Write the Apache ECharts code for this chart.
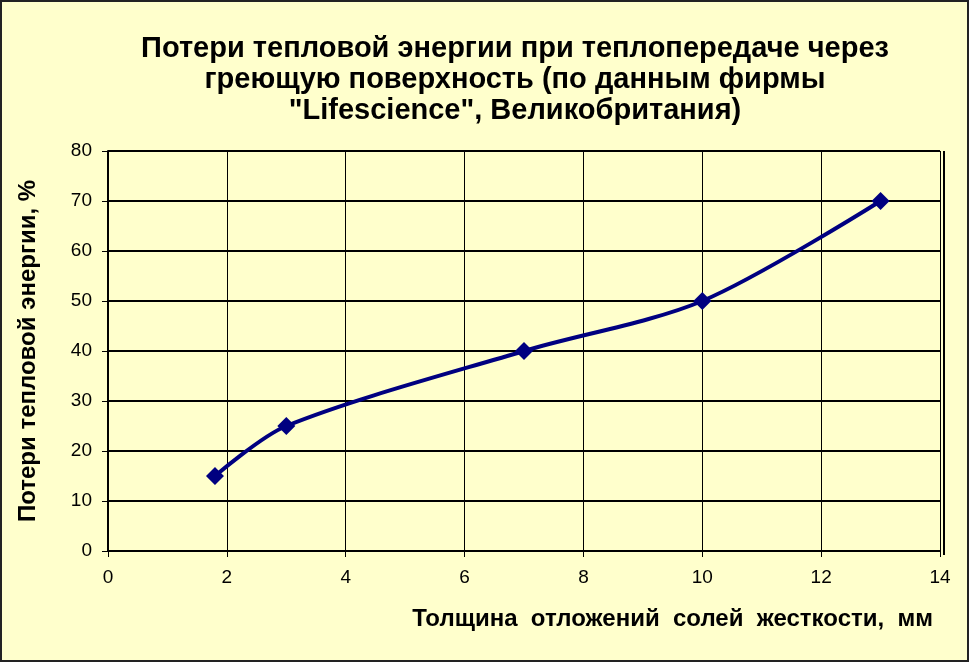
<!DOCTYPE html>
<html>
<head>
<meta charset="utf-8">
<script src="https://cdn.jsdelivr.net/npm/echarts@6/dist/echarts.min.js"></script>
<style>
  html, body { margin: 0; padding: 0; background: #ffffcc; }
  #chart { width: 969px; height: 662px; box-sizing: border-box; border: 2px solid #222; }
</style>
</head>
<body>
<div id="chart"></div>
<script>
// Heat loss vs scale thickness
const thickness = [1.8, 3, 7, 10, 13];
const heatLoss = [15, 25, 40, 50, 70];
const xTicks = [0, 2, 4, 6, 8, 10, 12, 14];
const yTicks = [0, 10, 20, 30, 40, 50, 60, 70, 80];

const chart = echarts.init(document.getElementById('chart'));

const titleText = 'Потери тепловой энергии при теплопередаче через\nгреющую поверхность (по данным фирмы\n"Lifescience", Великобритания)';
const labelFont = 'Arial, "Liberation Sans", sans-serif';

chart.setOption({
  backgroundColor: '#ffffcc',
  animation: false,
  title: {
    text: titleText,
    left: 508,
    top: 26,
    textAlign: 'center',
    textStyle: {
      fontFamily: labelFont,
      fontWeight: 'bold',
      fontSize: 29,
      lineHeight: 31,
      color: '#000'
    }
  },
  grid: { left: 106, right: 27, top: 149, bottom: 109 },
  xAxis: {
    type: 'value',
    min: xTicks[0],
    max: xTicks[xTicks.length - 1],
    interval: 2,
    name: 'Толщина  отложений  солей  жесткости,  мм',
    nameLocation: 'end',
    nameGap: 0,
    nameTextStyle: {
      fontFamily: labelFont,
      fontWeight: 'bold',
      fontSize: 24,
      color: '#000',
      align: 'right',
      verticalAlign: 'top',
      padding: [56, 7, 0, 0]
    },
    axisLine: { lineStyle: { color: '#000', width: 2 } },
    axisTick: { show: true, length: 6, lineStyle: { color: '#000', width: 1 } },
    axisLabel: {
      fontFamily: labelFont,
      fontSize: 19,
      color: '#000',
      margin: 17
    },
    splitLine: { show: true, lineStyle: { color: '#000', width: 1 } }
  },
  yAxis: {
    type: 'value',
    min: yTicks[0],
    max: yTicks[yTicks.length - 1],
    interval: 10,
    name: 'Потери тепловой энергии, %',
    nameLocation: 'middle',
    nameGap: 68,
    nameRotate: 90,
    nameTextStyle: {
      fontFamily: labelFont,
      fontWeight: 'bold',
      fontSize: 24,
      color: '#000'
    },
    axisLine: { show: true, lineStyle: { color: '#000', width: 2 } },
    axisTick: { show: true, length: 6, lineStyle: { color: '#000', width: 1 } },
    axisLabel: {
      fontFamily: labelFont,
      fontSize: 19,
      color: '#000',
      margin: 16
    },
    splitLine: { show: true, lineStyle: { color: '#000', width: 2 } }
  },
  graphic: [{
    type: 'line',
    shape: { x1: 942, y1: 149, x2: 942, y2: 553 },
    style: { stroke: '#000', lineWidth: 2 }
  }],
  series: [{
    type: 'line',
    data: thickness.map((x, i) => [x, heatLoss[i]]),
    smooth: 0.3,
    symbol: 'diamond',
    symbolSize: 18,
    lineStyle: { color: '#000080', width: 4 },
    itemStyle: { color: '#000080' }
  }]
});
</script>
</body>
</html>
